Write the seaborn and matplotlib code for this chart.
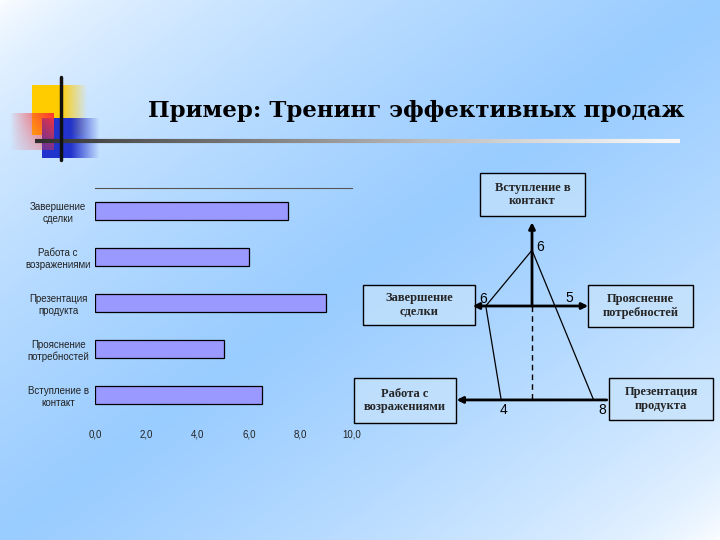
import matplotlib
matplotlib.use("Agg")
import matplotlib.pyplot as plt
import seaborn as sns
import numpy as np
import pandas as pd
from matplotlib.patches import Rectangle
from matplotlib.collections import LineCollection

# данные столбчатой диаграммы (сверху вниз)
stages = ["Завершение\nсделки", "Работа с\nвозражениями", "Презентация\nпродукта",
          "Прояснение\nпотребностей", "Вступление в\nконтакт"]
scores = [7.5, 6.0, 9.0, 5.0, 6.5]
x_ticks = [0, 2, 4, 6, 8, 10]
x_tick_labels = ["0,0", "2,0", "4,0", "6,0", "8,0", "10,0"]

# данные схемы (оси и оценки)
diag_names = ["Вступление в\nконтакт", "Прояснение\nпотребностей", "Презентация\nпродукта",
              "Работа с\nвозражениями", "Завершение\nсделки"]
diag_values = [6, 5, 8, 4, 6]

title = "Пример: Тренинг эффективных продаж"

sns.set_theme(style="white")
plt.rcParams['font.family'] = ['Liberation Sans', 'DejaVu Sans']

W, H = 720, 540
fig = plt.figure(figsize=(7.2, 5.4), dpi=100)

# фон: градиент белый -> голубой -> белый по диагонали
bg = fig.add_axes([0, 0, 1, 1], zorder=0)
bg.set_xlim(0, W)
bg.set_ylim(H, 0)
bg.axis("off")
X, Y = np.meshgrid(np.linspace(0, 1, W), np.linspace(0, 1, H))
t = X + Y
b = np.clip(1 - np.abs(t - 1), 0, 1) ** 0.6
blue = np.array([0.60, 0.80, 1.0])
img = (1 - b[..., None]) * np.ones(3) + b[..., None] * blue
bg.imshow(img, extent=[0, W, H, 0], aspect="auto", zorder=0)


def grad_square(ax, x0, y0, w, h, rgb, alpha, z):
    arr = np.zeros((alpha.shape[0], alpha.shape[1], 4))
    arr[..., :3] = rgb
    arr[..., 3] = alpha
    ax.imshow(arr, extent=[x0, x0 + w, y0 + h, y0], aspect="auto", zorder=z)


# декоративные квадраты
n = 60
gx = np.linspace(0, 1, n)[None, :] * np.ones((n, 1))
gy = np.linspace(0, 1, n)[:, None] * np.ones((1, n))
grad_square(bg, 32, 85, 56, 50, (1.0, 0.8, 0.0), np.clip((1 - gx) * 2.0, 0, 1), 1)
grad_square(bg, 42, 118, 58, 40, (0.13, 0.2, 0.8), np.clip((1 - gx) * 2.0, 0, 1), 2)
grad_square(bg, 10, 113, 44, 37, (1.0, 0.2, 0.2),
            np.clip(gx ** 0.9 * (1 - 0.6 * gy), 0, 1), 3)
bg.plot([61, 61], [77, 160], color="#111111", lw=2.5, zorder=5)

# линия под заголовком с градиентом
xs = np.linspace(35, 680, 200)
segs = [[(xs[i], 141), (xs[i + 1], 141)] for i in range(len(xs) - 1)]
cols = [plt.cm.Greys(0.85 - 0.78 * i / len(segs)) for i in range(len(segs))]
bg.add_collection(LineCollection(segs, colors=cols, linewidths=3, zorder=4))

bg.text(416, 111, title, ha="center", va="center", fontsize=16.5, fontweight="bold",
        family=["DejaVu Serif"], color="black", zorder=5)

# рамки с подписями схемы
boxes = [(480, 173, 105, 43), (588, 285, 105, 42), (609, 378, 104, 42),
         (354, 378, 102, 45), (363, 285, 112, 40)]
for name, (bx, by, bw, bh) in zip(diag_names, boxes):
    bg.add_patch(Rectangle((bx, by), bw, bh, facecolor=(0.78, 0.89, 0.99), alpha=0.7,
                           edgecolor="none", zorder=6))
    bg.add_patch(Rectangle((bx, by), bw, bh, facecolor="none", edgecolor="black",
                           lw=1, zorder=7))
    bg.text(bx + bw / 2, by + bh / 2, name, ha="center", va="center", fontsize=9,
            fontweight="bold", family=["Liberation Serif", "DejaVu Serif"],
            linespacing=1.2, zorder=8)

# столбчатая диаграмма
ax = fig.add_axes([95 / W, 1 - 418 / H, 257 / W, 230 / H], zorder=2)
ax.patch.set_alpha(0)
df = pd.DataFrame({"stage": stages, "score": scores})
sns.barplot(data=df, y="stage", x="score", orient="h", color="#9999FF",
            edgecolor="black", linewidth=0.9, width=0.41, saturation=1, ax=ax)
ax.set_xlim(0, 10)
ax.set_ylim(4.5, -0.5)
ax.set_xticks(x_ticks)
ax.set_xticklabels(x_tick_labels, fontsize=7, color="#222222")
ax.set_xlabel("")
ax.set_ylabel("")
ax.tick_params(axis="both", length=0)
ax.tick_params(axis="x", pad=8)
ax.tick_params(axis="y", pad=8)
for lbl in ax.get_yticklabels():
    lbl.set_fontsize(7)
    lbl.set_color("#222222")
    lbl.set_multialignment("center")
    lbl.set_horizontalalignment("center")
    lbl.set_x(-0.1)
for s in ["left", "right", "bottom"]:
    ax.spines[s].set_visible(False)
ax.spines["top"].set_color("#555555")
ax.spines["top"].set_linewidth(0.8)

# схема: центр (532, 306) px, масштаб по осям
cx, cy, sx, sy = 532, 306, 7.7, 9.3
xl, yl = (-12, 12), (-11.5, 10)
dax = fig.add_axes([(cx + xl[0] * sx) / W, 1 - (cy - yl[0] * sy) / H,
                    (xl[1] - xl[0]) * sx / W, (yl[1] - yl[0]) * sy / H], zorder=3)
dax.set_xlim(*xl)
dax.set_ylim(*yl)
dax.axis("off")
base = -10.1
top_v, right_v, pres_v, obj_v, close_v = diag_values
p_top = (0, top_v)
p_right = (right_v, 0)
p_pres = (pres_v, base)
p_obj = (-obj_v, base)
p_close = (-close_v, 0)

arrow = dict(color="black", lw=2, mutation_scale=9, shrinkA=0, shrinkB=0)
dax.annotate("", xy=(0, 9.0), xytext=(0, 0), arrowprops=dict(arrowstyle="-|>", **arrow))
dax.annotate("", xy=(-7.7, 0), xytext=(7.3, 0), arrowprops=dict(arrowstyle="<|-|>", **arrow))
dax.annotate("", xy=(-9.8, base), xytext=(9.7, base), arrowprops=dict(arrowstyle="-|>", **arrow))
dax.plot([0, 0], [0, base], color="black", lw=1, ls=(0, (4, 3)))

poly = [p_top, p_close, p_obj, p_pres, p_top]
dax.plot([p[0] for p in poly], [p[1] for p in poly], color="black", lw=0.9)

lab = dict(fontsize=10, color="black", family=["Liberation Sans", "DejaVu Sans"])
dax.annotate(str(top_v), p_top, xytext=(3, 2), textcoords="offset points", ha="left", va="center", **lab)
dax.annotate(str(close_v), p_close, xytext=(-2, 5), textcoords="offset points", ha="center", va="center", **lab)
dax.annotate(str(right_v), p_right, xytext=(-1, 6), textcoords="offset points", ha="center", va="center", **lab)
dax.annotate(str(obj_v), p_obj, xytext=(2, -7), textcoords="offset points", ha="center", va="center", **lab)
dax.annotate(str(pres_v), p_pres, xytext=(6, -7), textcoords="offset points", ha="center", va="center", **lab)

fig.savefig("out.png", dpi=100)
